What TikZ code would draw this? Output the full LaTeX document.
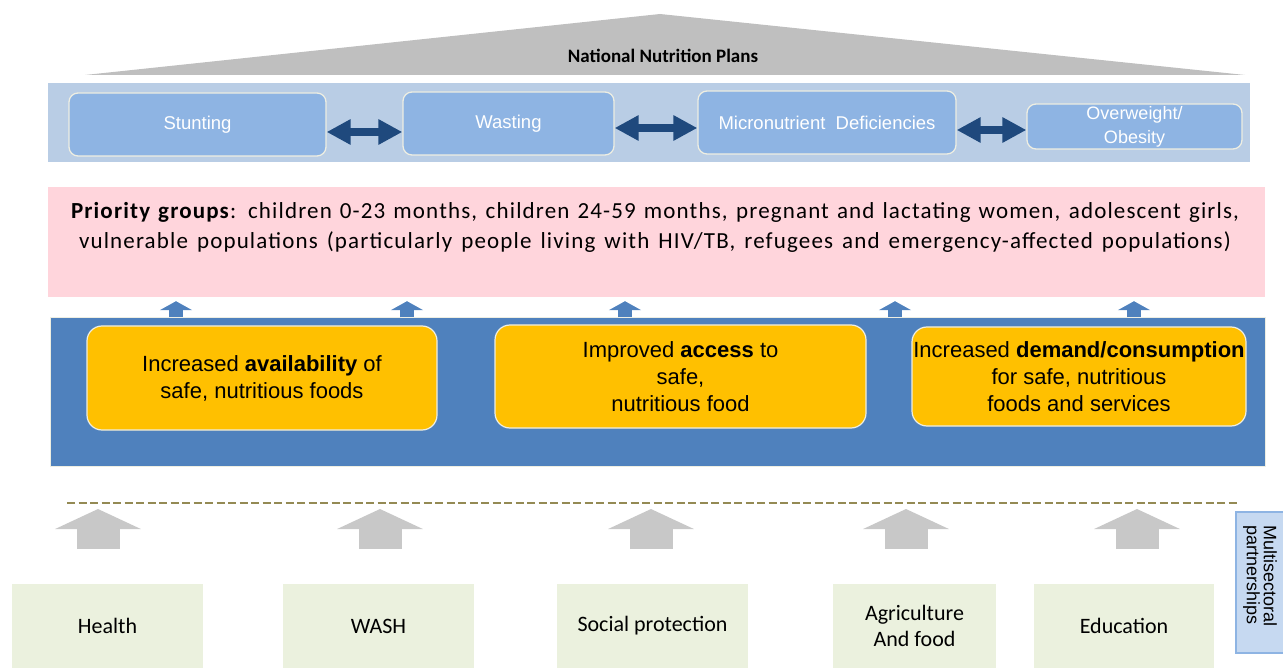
\documentclass[tikz,border=0pt]{standalone}
\usepackage{fontspec}
\setmainfont{Carlito}
\newfontfamily\arialf{Liberation Sans}
\usetikzlibrary{arrows.meta}
\definecolor{trig}{HTML}{BFBFBF}
\definecolor{lband}{HTML}{B9CDE5}
\definecolor{nfill}{HTML}{8EB4E3}
\definecolor{cream}{HTML}{EEEEE2}
\definecolor{darkarr}{HTML}{1F497D}
\definecolor{pinkf}{HTML}{FFD5DC}
\definecolor{bband}{HTML}{4F81BD}
\definecolor{orangef}{HTML}{FFC000}
\definecolor{olive}{HTML}{948A54}
\definecolor{grayarr}{HTML}{C8C8C8}
\definecolor{sectf}{HTML}{EBF1DE}
\definecolor{multif}{HTML}{C6D9F1}
\definecolor{multid}{HTML}{8EB4E3}
\begin{document}
\begin{tikzpicture}[x=1pt,y=-1pt,
  nbox/.style={rounded corners=9pt,fill=nfill,draw=cream,line width=1.3pt,text=white,
    font=\arialf\fontsize{18.5}{23}\selectfont,align=center,inner sep=0pt},
  dbl/.style={darkarr,line width=8pt,{Triangle[length=24pt,width=24pt]}-{Triangle[length=24pt,width=24pt]}},
  obox/.style={rounded corners=15pt,fill=orangef,draw=cream,line width=1.2pt,
    font=\arialf\fontsize{22}{27}\selectfont,align=center,inner sep=0pt},
  sbox/.style={fill=sectf,inner sep=0pt,font=\fontsize{22}{26}\selectfont,align=center},
  smallup/.style={bband,line width=14pt,-{Triangle[length=9pt,width=32pt]}},
  grayup/.style={grayarr,line width=43pt,-{Triangle[length=20pt,width=85pt]}}
]
\useasboundingbox (0,0) rectangle (1283,668);
% roof
\fill[trig] (85,75) -- (660,14) -- (1245,75) -- cycle;
\node[font=\fontsize{19}{22}\selectfont\bfseries] (nnp) at (663,56) {National Nutrition Plans};
% light band
\fill[lband] (48,83) rectangle (1250,162);
\node[nbox,minimum width=257pt,minimum height=63pt] (stunt) at (197.5,124.5) {\raisebox{-2pt}{Stunting}};
\node[nbox,minimum width=211pt,minimum height=63pt] (wast) at (508.5,123.5) {\raisebox{-1pt}{Wasting}};
\node[nbox,minimum width=258pt,minimum height=63pt] (micro) at (827,122.5) {Micronutrient\ \ Deficiencies};
\node[nbox,minimum width=215pt,minimum height=45pt,font=\arialf\fontsize{18}{24}\selectfont] (over) at (1134.5,126.5) {Overweight/\\Obesity};
\draw[dbl] (stunt.east |- 0,132) -- (wast.west |- 0,132);
\draw[dbl] (wast.east |- 0,128) -- (micro.west |- 0,128);
\draw[dbl] (micro.east |- 0,130) -- (over.west |- 0,130);
% priority
\node[fill=pinkf,minimum width=1217pt,minimum height=110pt,inner sep=0pt] (prio) at (656.5,242) {};
\node[font=\fontsize{23}{30}\selectfont\addfontfeatures{LetterSpace=5},align=center,inner sep=0pt] (priotext) at (655,227)
  {\makebox[1168pt][s]{\textbf{Priority groups}: children 0-23 months, children 24-59 months, pregnant and lactating women, adolescent girls,}\\
   \makebox[1152pt][s]{vulnerable populations (particularly people living with HIV/TB, refugees and emergency-affected populations)}};
% blue band
\node[fill=bband,draw=cream,line width=1pt,minimum width=1215pt,minimum height=148pt,inner sep=0pt] (band) at (657.5,392) {};
\foreach \x in {176,407,625,895,1134}
  \draw[smallup] (band.north -| \x,0) -- ([yshift=-4pt]prio.south -| \x,0);
\node[obox,minimum width=350pt,minimum height=104pt] (avail) at (262,378)
  {Increased \textbf{availability} of\\safe, nutritious foods};
\node[obox,minimum width=371pt,minimum height=103pt] (access) at (680.5,376.5)
  {Improved \textbf{access} to\\safe,\\nutritious food};
\node[obox,minimum width=334pt,minimum height=99pt] (demand) at (1079,376.5)
  {Increased \textbf{demand/consumption}\\for safe, nutritious\\foods and services};
% dashed line
\coordinate (dl) at (67,503);
\coordinate (dr) at (1237,503);
\draw[olive,line width=2.5pt,dash pattern=on 8pt off 3.5pt] (dl) -- (dr);
% sector boxes
\node[sbox,minimum width=191pt,minimum height=84pt] (health) at (107.5,626) {Health};
\node[sbox,minimum width=191pt,minimum height=84pt] (wash) at (378.5,626) {WASH};
\node[sbox,minimum width=191pt,minimum height=84pt] (social) at (652.5,626) {Social protection};
\node[sbox,minimum width=163pt,minimum height=84pt] (agri) at (914.5,626) {Agriculture\\And food};
\node[sbox,minimum width=180pt,minimum height=84pt] (edu) at (1124,626) {Education};
% gray arrows
\foreach \x in {98,380,651,906,1137}
  \draw[grayup] (\x,549) -- (\x,509);
% multisectoral
\node[fill=multif,draw=multid,line width=1.2pt,minimum width=52pt,minimum height=141pt,inner sep=0pt] (multi) at (1262,582.5) {};
\node[rotate=-90,anchor=west,align=left,inner sep=0pt,font=\arialf\fontsize{18}{17}\selectfont] (multitext) at (1260,525)
  {Multisectoral\\partnerships};
\end{tikzpicture}
\end{document}
